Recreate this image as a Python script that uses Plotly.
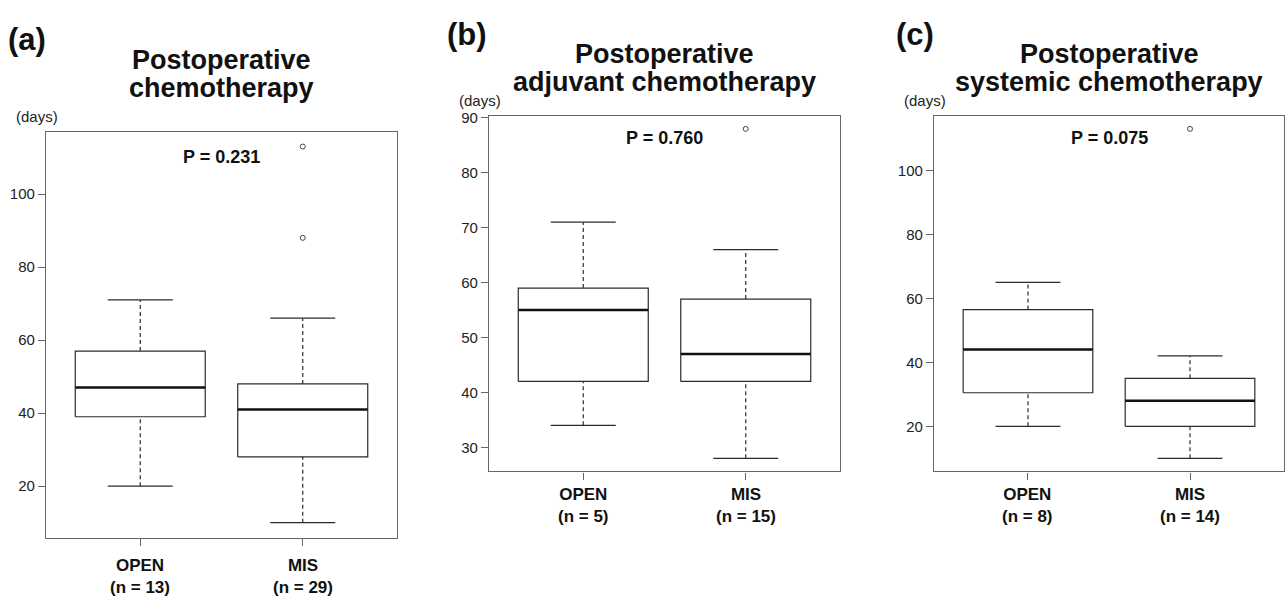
import plotly.graph_objects as go

# ---------------- data ----------------
panel_labels = ["(a)", "(b)", "(c)"]
title_line1 = ["Postoperative", "Postoperative", "Postoperative"]
title_line2 = ["chemotherapy", "adjuvant chemotherapy", "systemic chemotherapy"]
p_texts = ["P = 0.231", "P = 0.760", "P = 0.075"]
groups = ["OPEN", "MIS"]

n_a = [13, 29]
lower_a = [20, 10]
q1_a = [39, 28]
med_a = [47, 41]
q3_a = [57, 48]
upper_a = [71, 66]
out_a = [[], [88, 113]]
yticks_a = [20, 40, 60, 80, 100]

n_b = [5, 15]
lower_b = [34, 28]
q1_b = [42, 42]
med_b = [55, 47]
q3_b = [59, 57]
upper_b = [71, 66]
out_b = [[], [88]]
yticks_b = [30, 40, 50, 60, 70, 80, 90]

n_c = [8, 14]
lower_c = [20, 10]
q1_c = [30.5, 20]
med_c = [44, 28]
q3_c = [56.5, 35]
upper_c = [65, 42]
out_c = [[], [113]]
yticks_c = [20, 40, 60, 80, 100]

# ---------------- layout geometry (pixels) ----------------
W, H = 1285, 597
plot_px = [  # left, right, top, bottom
    (46, 397, 126, 537),
    (489, 840, 110, 470),
    (934, 1284, 110, 470),
]
label_px = [(27, 33), (467, 28), (915, 28)]
title_y_px = [(54, 82), (48, 76), (48, 76)]
cat_y_off = [39, 34]

FONT = "Liberation Sans, Arial, Helvetica, sans-serif"
BOXC = "#2b2b2b"
FRAMEC = "#6a6462"

panels = [
    (n_a, lower_a, q1_a, med_a, q3_a, upper_a, out_a, yticks_a),
    (n_b, lower_b, q1_b, med_b, q3_b, upper_b, out_b, yticks_b),
    (n_c, lower_c, q1_c, med_c, q3_c, upper_c, out_c, yticks_c),
]

fig = go.Figure()
annotations = []

for k, (n, lo, q1, med, q3, hi, outs, yt) in enumerate(panels):
    xa = "x" if k == 0 else f"x{k+1}"
    ya = "y" if k == 0 else f"y{k+1}"
    half = 0.4
    cap = 0.2
    for i in range(len(groups)):
        xc = i + 1
        # whiskers (dashed)
        fig.add_trace(go.Scatter(
            x=[xc, xc, None, xc, xc], y=[lo[i], q1[i], None, q3[i], hi[i]],
            mode="lines", line=dict(color=BOXC, width=1.2, dash="4px,3px"),
            xaxis=xa, yaxis=ya, showlegend=False, hoverinfo="skip"))
        # caps
        fig.add_trace(go.Scatter(
            x=[xc - cap, xc + cap, None, xc - cap, xc + cap],
            y=[lo[i], lo[i], None, hi[i], hi[i]],
            mode="lines", line=dict(color=BOXC, width=1.2),
            xaxis=xa, yaxis=ya, showlegend=False, hoverinfo="skip"))
        # box
        fig.add_trace(go.Scatter(
            x=[xc - half, xc + half, xc + half, xc - half, xc - half],
            y=[q1[i], q1[i], q3[i], q3[i], q1[i]],
            mode="lines", line=dict(color=BOXC, width=1.2),
            fill="toself", fillcolor="white",
            xaxis=xa, yaxis=ya, showlegend=False, hoverinfo="skip"))
        # median
        fig.add_trace(go.Scatter(
            x=[xc - half, xc + half], y=[med[i], med[i]],
            mode="lines", line=dict(color="#111111", width=2.6),
            xaxis=xa, yaxis=ya, showlegend=False, hoverinfo="skip"))
        # outliers
        if outs[i]:
            fig.add_trace(go.Scatter(
                x=[xc] * len(outs[i]), y=outs[i], mode="markers",
                marker=dict(symbol="circle-open", size=5, color="#444444",
                            line=dict(width=1)),
                xaxis=xa, yaxis=ya, showlegend=False, hoverinfo="skip"))

    allv = lo + hi + [v for o in outs for v in o]
    vmin, vmax = min(allv), max(allv)
    pad = (vmax - vmin) * 0.04
    L, R, T, B = plot_px[k]
    xkey = "xaxis" if k == 0 else f"xaxis{k+1}"
    ykey = "yaxis" if k == 0 else f"yaxis{k+1}"
    fig.update_layout(**{
        xkey: dict(domain=[L / W, R / W], range=[0.42, 2.58], anchor=ya,
                   tickvals=[1, 2], showticklabels=False, ticks="outside",
                   ticklen=7, tickcolor=FRAMEC, showline=True, mirror=True,
                   linecolor=FRAMEC, linewidth=1.3, showgrid=False,
                   zeroline=False, fixedrange=True),
        ykey: dict(domain=[(H - B) / H, (H - T) / H],
                   range=[vmin - pad, vmax + pad], anchor=xa,
                   tickvals=yt, ticktext=[str(v) for v in yt],
                   ticks="outside", ticklen=7, tickcolor=FRAMEC,
                   tickfont=dict(family=FONT, size=15, color="#222222"),
                   showline=True, mirror=True, linecolor=FRAMEC,
                   linewidth=1.3, showgrid=False, zeroline=False,
                   fixedrange=True),
    })

    xd = f"{xa} domain"
    yd = f"{ya} domain"
    # panel label
    annotations.append(dict(text=f"<b>{panel_labels[k]}</b>", xref="paper",
                            yref="paper", x=label_px[k][0] / W,
                            y=1 - label_px[k][1] / H, xanchor="center",
                            yanchor="middle", showarrow=False,
                            font=dict(family=FONT, size=31, color="#111111")))
    # titles
    for j, txt in enumerate([title_line1[k], title_line2[k]]):
        annotations.append(dict(text=f"<b>{txt}</b>", xref=xd, yref="paper",
                                x=0.5, y=1 - title_y_px[k][j] / H,
                                xanchor="center", yanchor="middle",
                                showarrow=False,
                                font=dict(family=FONT, size=27,
                                          color="#111111")))
    # (days)
    annotations.append(dict(text="(days)", xref=xd, yref="paper",
                            x=-0.025, y=1 - (T - 15) / H, xanchor="center",
                            yanchor="middle", showarrow=False,
                            font=dict(family=FONT, size=15, color="#222222")))
    # P value
    annotations.append(dict(text=f"<b>{p_texts[k]}</b>", xref=xd, yref=yd,
                            x=0.5, y=0.937, xanchor="center",
                            yanchor="middle", showarrow=False,
                            font=dict(family=FONT, size=18, color="#111111")))
    # category labels (two lines in one text)
    off = cat_y_off[0] if k == 0 else cat_y_off[1]
    for i, g in enumerate(groups):
        annotations.append(dict(text=f"<b>{g}</b><br><b>(n = {n[i]})</b>",
                                xref=xa, yref="paper",
                                x=i + 1, y=1 - (B + off) / H,
                                xanchor="center", yanchor="middle",
                                showarrow=False,
                                font=dict(family=FONT, size=17,
                                          color="#111111")))

fig.update_layout(
    width=W, height=H, margin=dict(l=0, r=0, t=0, b=0),
    paper_bgcolor="white", plot_bgcolor="white",
    annotations=annotations, showlegend=False,
)

fig.write_html("out.html", config={"displayModeBar": False})
